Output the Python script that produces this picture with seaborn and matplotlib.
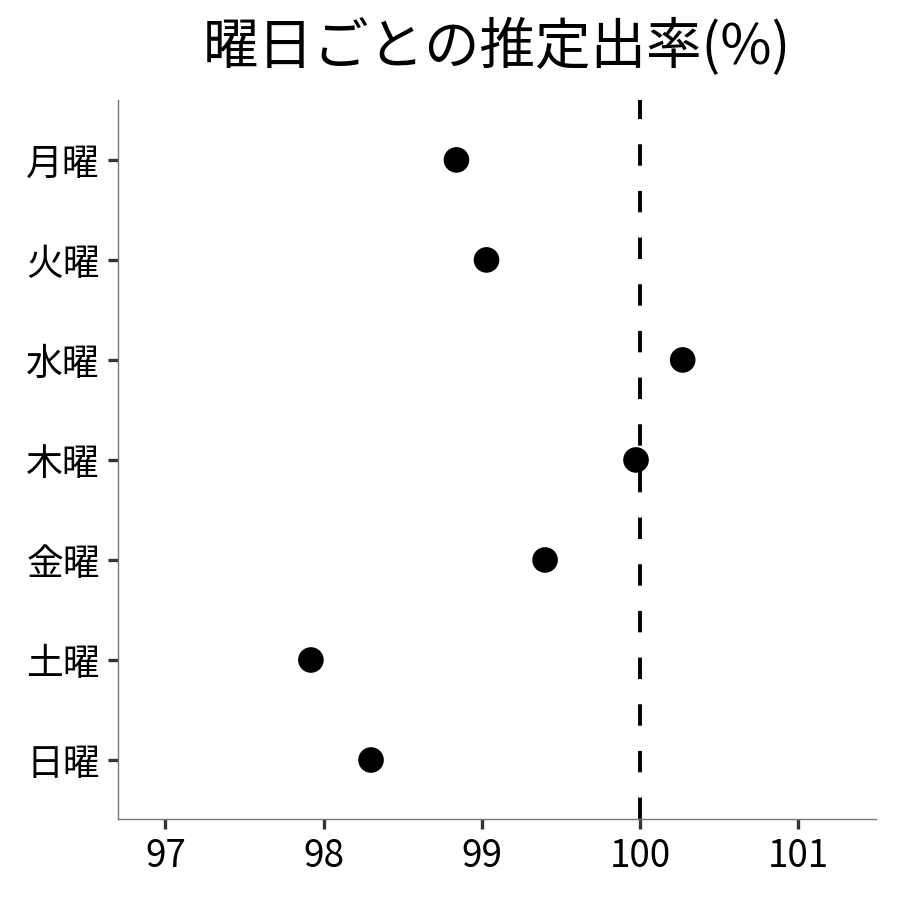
import matplotlib
matplotlib.use("Agg")
import matplotlib.pyplot as plt
import seaborn as sns
import pandas as pd

days = ["月曜", "火曜", "水曜", "木曜", "金曜", "土曜", "日曜"]
rates = [98.84, 99.03, 100.27, 99.975, 99.40, 97.92, 98.30]
xticks = [97, 98, 99, 100, 101]
ref_value = 100
title = "曜日ごとの推定出率(%)"

sns.set_theme(style="white")
plt.rcParams['font.family'] = ['Noto Sans CJK JP', 'DejaVu Sans']

df = pd.DataFrame({"day": days, "rate": rates})

fig = plt.figure(figsize=(9, 9), dpi=100)
ax = fig.add_axes([0.131, 0.09, 0.842, 0.799])

sns.scatterplot(data=df, x="rate", y="day", ax=ax, color="black", s=340,
                edgecolor="none", zorder=3)
ax.axvline(ref_value, color="black", lw=2.8, ls=(0, (5.5, 6.5)), zorder=2)

ax.set_xlim(96.70, 101.49)
ax.set_ylim(6.59, -0.6)
ax.set_xticks(xticks)
ax.set_xticklabels([str(t) for t in xticks])
ax.set_xlabel("")
ax.set_ylabel("")

for side in ["top", "right"]:
    ax.spines[side].set_visible(False)
for side in ["left", "bottom"]:
    ax.spines[side].set_color("#777777")
    ax.spines[side].set_linewidth(1.0)

ax.tick_params(axis="both", which="major", length=7, width=2.4, color="#333333",
               labelcolor="black", pad=6, left=True, bottom=True)
for lab in ax.get_xticklabels() + ax.get_yticklabels():
    lab.set_fontsize(26.5)

ax.set_title(title, fontsize=40, pad=26, color="black")

fig.savefig("out.png", dpi=100)
